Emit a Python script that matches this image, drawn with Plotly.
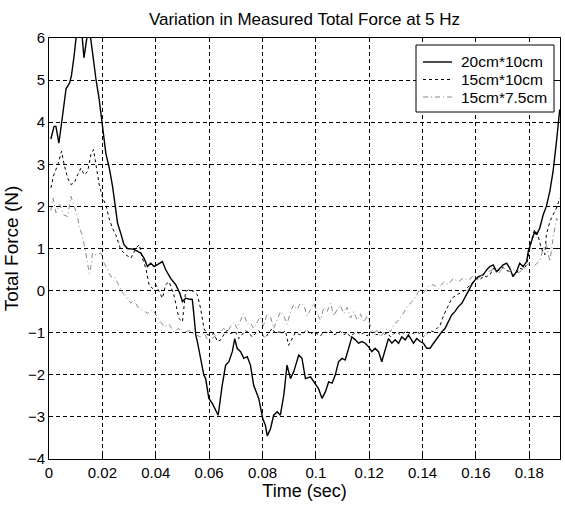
import plotly.graph_objects as go

# ---- data (time in s, force in N) ----
t1 = [0.0007,0.0019,0.0026,0.0037,0.0049,0.0057,0.0064,0.0077,0.0084,0.0094,0.0103,0.0112,0.0122,0.0131,0.0143,0.0152,
      0.0164,0.0176,0.0188,0.0201,0.0213,0.0226,0.0238,0.0250,0.0257,0.0269,0.0281,0.0294,0.0319,0.0344,0.0356,0.0369,
      0.0381,0.0394,0.0413,0.0425,0.0437,0.0456,0.0475,0.0490,0.0500,0.0512,0.0524,0.0537,0.0543,0.0550,0.0556,0.0568,
      0.0580,0.0587,0.0599,0.0612,0.0622,0.0634,0.0649,0.0662,0.0674,0.0687,0.0696,0.0705,0.0718,0.0730,0.0743,0.0755,
      0.0767,0.0786,0.0801,0.0811,0.0818,0.0830,0.0842,0.0855,0.0867,0.0880,0.0892,0.0905,0.0917,0.0936,0.0948,0.0961,
      0.0980,0.0992,0.1010,0.1023,0.1036,0.1048,0.1061,0.1073,0.1085,0.1098,0.1110,0.1123,0.1135,0.1148,0.1160,0.1173,
      0.1185,0.1197,0.1210,0.1222,0.1235,0.1247,0.1260,0.1272,0.1285,0.1297,0.1310,0.1322,0.1335,0.1347,0.1366,0.1378,
      0.1391,0.1403,0.1416,0.1428,0.1441,0.1453,0.1472,0.1484,0.1496,0.1509,0.1521,0.1534,0.1547,0.1559,0.1571,0.1584,
      0.1596,0.1609,0.1627,0.1640,0.1652,0.1665,0.1677,0.1690,0.1702,0.1715,0.1727,0.1739,0.1752,0.1764,0.1777,0.1790,
      0.1796,0.1808,0.1820,0.1827,0.1839,0.1852,0.1864,0.1877,0.1889,0.1902,0.1914]
f1 = [3.6,3.9,3.9,3.5,4.07,4.45,4.8,4.93,5.1,5.57,6.1,6.3,6.2,5.53,6.05,6.2,
      5.57,5.02,4.55,3.83,3.26,2.91,2.48,1.93,1.6,1.36,1.09,1.0,0.98,0.89,0.77,0.57,
      0.65,0.57,0.65,0.69,0.5,0.29,0.14,-0.06,-0.26,-0.18,-0.2,-0.21,-0.57,-1.05,-1.21,-1.65,
      -2.0,-2.09,-2.56,-2.68,-2.8,-2.96,-2.25,-1.77,-1.69,-1.45,-1.14,-1.37,-1.45,-1.61,-1.57,-1.77,
      -2.25,-2.56,-3.04,-3.2,-3.45,-3.28,-2.96,-2.88,-2.96,-2.48,-1.77,-2.09,-1.93,-1.53,-1.61,-2.09,
      -2.05,-2.17,-2.33,-2.56,-2.4,-2.17,-2.2,-2.0,-1.69,-1.61,-1.65,-1.37,-1.1,-1.17,-1.25,-1.21,
      -1.25,-1.33,-1.45,-1.37,-1.45,-1.69,-1.37,-1.14,-1.25,-1.17,-1.25,-1.1,-1.17,-1.05,-1.25,-1.14,
      -1.21,-1.25,-1.37,-1.37,-1.25,-1.14,-0.98,-0.9,-0.74,-0.58,-0.5,-0.38,-0.3,-0.14,-0.02,0.14,
      0.25,0.33,0.37,0.49,0.57,0.61,0.45,0.53,0.61,0.65,0.53,0.33,0.45,0.65,0.57,0.69,
      0.93,1.17,1.4,1.33,1.48,1.8,2.0,2.36,2.83,3.55,4.3]

t2 = [0.0007,0.0018,0.0033,0.0047,0.0057,0.0070,0.0082,0.0095,0.0107,0.0120,0.0132,0.0145,0.0157,0.0167,0.0176,0.0188,
      0.0201,0.0213,0.0225,0.0238,0.0250,0.0269,0.0288,0.0307,0.0325,0.0338,0.0350,0.0363,0.0375,0.0388,0.0400,0.0412,
      0.0425,0.0437,0.0450,0.0468,0.0487,0.0500,0.0512,0.0524,0.0543,0.0556,0.0568,0.0581,0.0593,0.0606,0.0618,0.0631,
      0.0643,0.0655,0.0668,0.0680,0.0699,0.0711,0.0724,0.0736,0.0749,0.0761,0.0774,0.0786,0.0799,0.0811,0.0824,0.0836,
      0.0849,0.0861,0.0874,0.0886,0.0898,0.0911,0.0923,0.0942,0.0955,0.0967,0.0980,0.0992,0.1005,0.1017,0.1030,0.1042,
      0.1055,0.1067,0.1080,0.1092,0.1105,0.1117,0.1130,0.1142,0.1155,0.1167,0.1180,0.1192,0.1205,0.1217,0.1230,0.1242,
      0.1255,0.1267,0.1280,0.1292,0.1305,0.1317,0.1330,0.1342,0.1355,0.1367,0.1380,0.1392,0.1403,0.1416,0.1428,0.1441,
      0.1453,0.1466,0.1478,0.1491,0.1510,0.1528,0.1553,0.1565,0.1578,0.1590,0.1603,0.1615,0.1628,0.1640,0.1652,0.1665,
      0.1677,0.1690,0.1702,0.1715,0.1727,0.1739,0.1752,0.1764,0.1777,0.1790,0.1808,0.1820,0.1833,0.1845,0.1858,0.1864,
      0.1877,0.1889,0.1902,0.1914]
f2 = [2.44,2.75,2.99,3.31,2.99,2.67,2.52,2.56,2.75,2.91,2.75,2.83,3.23,3.35,2.99,2.52,
      2.2,2.04,1.72,1.48,1.33,0.97,0.85,0.77,1.0,1.09,0.77,0.53,0.14,0.05,0.14,-0.02,
      -0.18,0.14,0.21,-0.1,-0.66,-0.74,-0.02,0.02,-0.02,-0.1,-0.42,-0.9,-1.05,-1.05,-1.02,-1.21,
      -1.17,-1.05,-0.94,-1.02,-0.98,-1.14,-1.05,-0.95,-1.0,-1.1,-1.02,-0.95,-1.05,-1.12,-1.0,-0.9,
      -1.02,-0.98,-1.02,-0.95,-1.3,-1.14,-1.0,-1.05,-1.0,-0.93,-1.05,-0.97,-1.02,-1.08,-0.98,-1.0,
      -0.95,-1.05,-1.02,-0.97,-1.05,-1.0,-1.1,-1.02,-0.98,-1.05,-1.0,-1.08,-0.98,-1.02,-1.05,-0.97,
      -1.05,-1.0,-1.1,-1.02,-0.98,-1.05,-1.0,-0.96,-1.04,-1.0,-0.97,-1.05,-1.1,-1.02,-0.95,-0.98,
      -0.9,-0.82,-0.6,-0.42,-0.18,-0.1,-0.02,0.05,0.14,0.2,0.29,0.25,0.35,0.33,0.37,0.53,
      0.45,0.5,0.55,0.48,0.45,0.37,0.42,0.53,0.5,0.61,1.2,1.45,1.3,1.0,0.85,1.33,
      1.64,1.8,1.96,2.2]

t3 = [0.0007,0.0015,0.0026,0.0040,0.0055,0.0070,0.0082,0.0095,0.0107,0.0113,0.0126,0.0138,0.0145,0.0151,0.0157,0.0163,
      0.0176,0.0195,0.0207,0.0220,0.0232,0.0245,0.0257,0.0276,0.0288,0.0307,0.0320,0.0331,0.0350,0.0369,0.0388,0.0406,
      0.0419,0.0431,0.0450,0.0468,0.0487,0.0500,0.0525,0.0550,0.0568,0.0580,0.0593,0.0606,0.0618,0.0631,0.0643,0.0655,
      0.0668,0.0680,0.0693,0.0705,0.0718,0.0730,0.0743,0.0755,0.0767,0.0780,0.0792,0.0805,0.0817,0.0830,0.0842,0.0855,
      0.0867,0.0880,0.0892,0.0905,0.0917,0.0930,0.0942,0.0955,0.0967,0.0980,0.0992,0.1005,0.1017,0.1030,0.1042,0.1055,
      0.1067,0.1080,0.1092,0.1105,0.1117,0.1130,0.1142,0.1155,0.1167,0.1180,0.1192,0.1205,0.1217,0.1230,0.1242,0.1255,
      0.1267,0.1280,0.1292,0.1305,0.1322,0.1341,0.1360,0.1378,0.1391,0.1403,0.1422,0.1441,0.1460,0.1478,0.1497,0.1515,
      0.1534,0.1553,0.1571,0.1590,0.1609,0.1627,0.1646,0.1665,0.1683,0.1702,0.1720,0.1739,0.1758,0.1777,0.1790,0.1808,
      0.1820,0.1839,0.1852,0.1864,0.1877,0.1889,0.1902,0.1914]
f3 = [1.9,2.2,1.85,2.05,1.8,1.76,2.24,2.0,1.76,1.52,1.29,0.89,0.57,0.41,0.57,0.89,
      0.85,0.89,0.65,0.49,0.33,0.33,0.17,-0.06,-0.14,-0.3,-0.22,-0.38,-0.46,-0.54,-0.45,-0.62,
      -0.77,-0.86,-0.8,-0.98,-0.9,-1.0,-0.95,-1.05,-1.1,-1.0,-1.15,-1.2,-1.1,-1.05,-0.98,-0.9,
      -1.0,-0.85,-0.75,-0.9,-0.7,-0.55,-0.8,-0.77,-0.9,-0.74,-0.62,-0.85,-0.54,-0.62,-0.9,-0.7,
      -0.5,-0.6,-0.8,-0.5,-0.34,-0.45,-0.3,-0.34,-0.6,-0.45,-0.3,-0.55,-0.7,-0.4,-0.5,-0.3,
      -0.6,-0.45,-0.35,-0.55,-0.4,-0.65,-0.5,-0.7,-0.55,-0.75,-0.6,-0.85,-1.0,-0.95,-1.1,-1.0,
      -0.9,-0.98,-0.8,-0.74,-0.6,-0.4,-0.26,-0.1,0.05,-0.05,0.1,0.14,0.05,0.2,0.15,0.29,
      0.21,0.3,0.25,0.35,0.29,0.4,0.45,0.5,0.4,0.55,0.45,0.5,0.42,0.5,0.6,0.69,
      0.6,0.7,1.0,1.1,0.69,1.25,1.72,1.6]

names = ["20cm*10cm", "15cm*10cm", "15cm*7.5cm"]
x_ticks = [0, 0.02, 0.04, 0.06, 0.08, 0.1, 0.12, 0.14, 0.16, 0.18]
x_ticktext = ["0", "0.02", "0.04", "0.06", "0.08", "0.1", "0.12", "0.14", "0.16", "0.18"]
y_ticks = [-4, -3, -2, -1, 0, 1, 2, 3, 4, 5, 6]

FONT = "Liberation Sans, Arial, sans-serif"
W, H = 565, 508
ML, MR, MT, MB = 49, 5, 38, 49

styles = [dict(color="black", width=1.4),
          dict(color="black", width=1, dash="3px,3px"),
          dict(color="#8a8a8a", width=1, dash="5px,3px,1px,3px")]

fig = go.Figure()
for tx, fy, nm, st in zip([t1, t2, t3], [f1, f2, f3], names, styles):
    fig.add_trace(go.Scatter(x=tx, y=fy, mode="lines", name=nm, line=st, showlegend=False))

axis_common = dict(showline=True, linecolor="black", linewidth=1, mirror="ticks",
                   ticks="inside", ticklen=4, tickcolor="black",
                   showgrid=True, gridcolor="black", gridwidth=1, griddash="4px,3px",
                   zeroline=False, tickfont=dict(family=FONT, size=15, color="black"))

fig.update_xaxes(range=[0, 0.1915], tickvals=x_ticks, ticktext=x_ticktext,
                 title=dict(text="Time (sec)", font=dict(family=FONT, size=18, color="black"), standoff=2),
                 **axis_common)
fig.update_yaxes(range=[-4, 6], tickvals=y_ticks,
                 title=dict(text="Total Force (N)", font=dict(family=FONT, size=19, color="black"), standoff=4),
                 **axis_common)

# ---- legend drawn in plot-pixel positions (converted to paper coords) ----
pw, ph = W - ML - MR, H - MT - MB
def xp(px):
    return (px - ML) / pw
def yp(py):
    return (H - MB - py) / ph

shapes = [dict(type="rect", xref="paper", yref="paper",
               x0=xp(416), x1=xp(554), y0=yp(112), y1=yp(45),
               line=dict(color="black", width=1), fillcolor="white", layer="above")]
annotations = []
for row_py, nm, st in zip([62, 79.5, 97], names, styles):
    shapes.append(dict(type="line", xref="paper", yref="paper",
                       x0=xp(423), x1=xp(452), y0=yp(row_py), y1=yp(row_py),
                       line=st, layer="above"))
    annotations.append(dict(text=nm, xref="paper", yref="paper", x=xp(459), y=yp(row_py),
                            xanchor="left", yanchor="middle", showarrow=False,
                            font=dict(family=FONT, size=15.5, color="black")))

fig.update_layout(
    width=W, height=H,
    margin=dict(l=ML, r=MR, t=MT, b=MB),
    paper_bgcolor="white", plot_bgcolor="white",
    title=dict(text="Variation in Measured Total Force at 5 Hz", x=0.5, xref="paper",
               y=1 - 19 / H, yref="container", yanchor="middle",
               font=dict(family=FONT, size=17, color="black")),
    shapes=shapes, annotations=annotations,
    showlegend=False,
)

fig.write_html("out.html")
